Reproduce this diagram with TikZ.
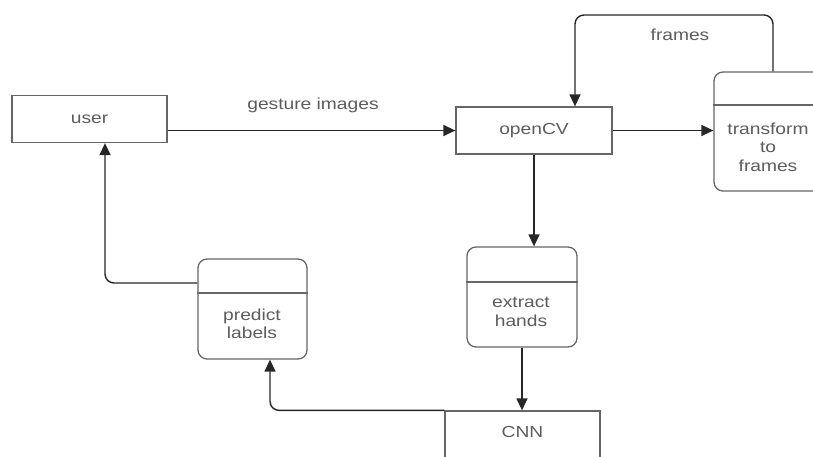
\documentclass[tikz,border=0pt]{standalone}
\usepackage{fontspec}
\setmainfont{Liberation Sans}[FakeStretch=1.2]
\usepackage{tikz}
\usetikzlibrary{shapes.geometric, arrows.meta}
\usepackage{xcolor}

\begin{document}
\begin{tikzpicture}[x=1pt, y=-1pt,
    flowbox/.style={draw=boxgrey, line width=1.3pt, text=textgrey, font=\fontsize{16}{19}\selectfont, align=center},
    procbox/.style={draw=boxgrey, line width=1.3pt, rounded corners=9pt},
    proctext/.style={text=textgrey, font=\fontsize{16}{18.5}\selectfont, align=center},
    flow/.style={-{Triangle[length=12pt, width=11pt]}, line width=1.4pt, draw=linegrey, rounded corners=9pt}]
        % Define colors for lines and text
        \definecolor{boxgrey}{rgb}{0.4, 0.4, 0.4}  % box borders
        \definecolor{linegrey}{rgb}{0.15, 0.15, 0.15}  % connectors
        \definecolor{textgrey}{rgb}{0.36, 0.36, 0.36}  % labels

        \useasboundingbox (0,0) rectangle (813,457);
        \clip (0,0) rectangle (813,457);

        % Plain boxes
        \node[flowbox, minimum width=155pt, minimum height=47pt] (user) at (89.5,119) {user};
        \node[flowbox, minimum width=156pt, minimum height=47pt] (opencv) at (534,130.5) {openCV};
        \node[flowbox, minimum width=155pt, minimum height=50pt, text depth=9pt] (cnn) at (522.5,436) {CNN};

        % Process boxes with a header line
        \node[procbox, minimum width=111pt, minimum height=119pt] (transform) at (769.5,131.5) {};
        \draw[draw=boxgrey, line width=1.3pt] (transform.west |- 0,105) -- (transform.east |- 0,105);
        \node[proctext] (transformtxt) at (768,147) {transform\\to\\frames};

        \node[procbox, minimum width=110pt, minimum height=100pt] (extract) at (522,297) {};
        \draw[draw=boxgrey, line width=1.3pt] (extract.west |- 0,282) -- (extract.east |- 0,282);
        \node[proctext] (extracttxt) at (521,312) {extract\\hands};

        \node[procbox, minimum width=109pt, minimum height=100pt] (predict) at (252.5,309) {};
        \draw[draw=boxgrey, line width=1.3pt] (predict.west |- 0,293) -- (predict.east |- 0,293);
        \node[proctext] (predicttxt) at (252,324) {predict\\labels};

        % Connectors
        \draw[flow] (user.east |- opencv.west) -- (opencv.west);
        \node[proctext] (gesturelbl) at (313,105) {gesture images};

        \draw[flow] (opencv.east) -- (transform.west |- opencv.east);

        \coordinate (looptop) at (680,15);
        \draw[flow] ([xshift=3.5pt]transform.north) |- (looptop) -| ([xshift=41pt]opencv.north);
        \node[proctext] (frameslbl) at (680,35) {frames};

        \draw[flow] (opencv.south) -- (opencv.south |- extract.north);
        \draw[flow] (extract.south) -- (extract.south |- cnn.north);
        \draw[flow] (cnn.north west) -| ([xshift=17.5pt]predict.south);
        \draw[flow] ([yshift=26pt]predict.west) -| ([xshift=15.5pt]user.south);

    \end{tikzpicture}
\end{document}
